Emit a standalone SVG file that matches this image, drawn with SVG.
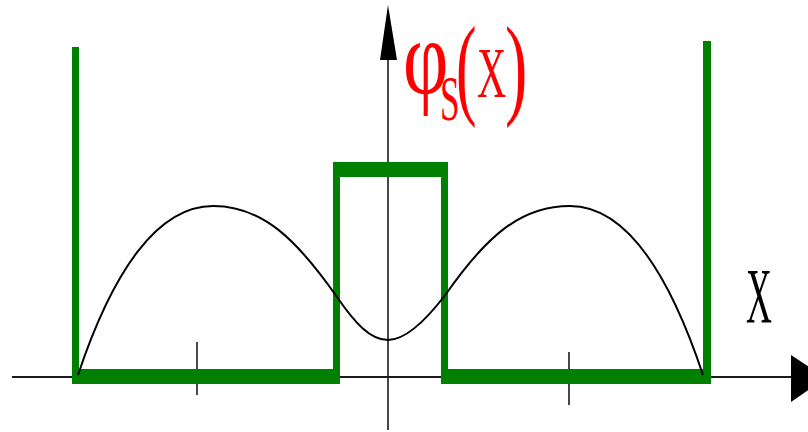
<svg xmlns="http://www.w3.org/2000/svg" width="808" height="432" viewBox="0 0 808 432">
<style>
.well{fill:#008000}
.axis{stroke:#1a1a1a;fill:none}
.lbl{font-family:"Liberation Serif","Times New Roman",serif}
.red{fill:#ff0000}
</style>
<rect width="808" height="432" fill="#ffffff"/>
<g id="axes">
<line class="axis" x1="12" y1="377" x2="795" y2="377" stroke-width="2.2"/>
<polygon points="791,355 826,378 791,402" fill="#000"/>
<line class="axis" x1="388" y1="430" x2="388" y2="55" stroke-width="1.6"/>
<polygon points="388,5 397,60 380,60" fill="#000"/>
<line class="axis" x1="197" y1="342" x2="197" y2="395" stroke-width="1.6"/>
<line class="axis" x1="569" y1="352" x2="569" y2="405" stroke-width="1.6"/>
</g>
<g id="potential">
<rect class="well" x="72" y="47" width="7" height="337"/>
<rect class="well" x="72" y="369" width="268" height="15"/>
<rect class="well" x="333" y="162" width="7" height="222"/>
<rect class="well" x="333" y="162" width="115" height="15"/>
<rect class="well" x="441" y="162" width="7" height="222"/>
<rect class="well" x="441" y="369" width="270" height="15"/>
<rect class="well" x="703" y="41" width="8" height="343"/>
</g>
<g id="wavefunction">
<path d="M78,375 C113,270 158,206 213,206 C263,206 297,240 337,297 C355,323 370,340 388,340 C406,340 427,319 446,294 C486,237 520,206 570,206 C625,206 668,270 703,375" fill="none" stroke="#000" stroke-width="2"/>
</g>
<g id="label-phi">
<text class="lbl red" font-size="105" transform="translate(403,93) scale(0.75,1)">φ</text>
<text class="lbl red" font-size="64" transform="translate(440,120) scale(0.55,1)">S</text>
<text class="lbl red" font-size="112" transform="translate(456,104) scale(0.55,1)">(</text>
<text class="lbl red" font-size="71" transform="translate(477,97) scale(0.57,1)">X</text>
<text class="lbl red" font-size="112" transform="translate(505,104) scale(0.6,1)">)</text>
</g>
<g id="label-x">
<text class="lbl" font-size="78" fill="#000" transform="translate(746,322) scale(0.46,1)">X</text>
</g>
</svg>
